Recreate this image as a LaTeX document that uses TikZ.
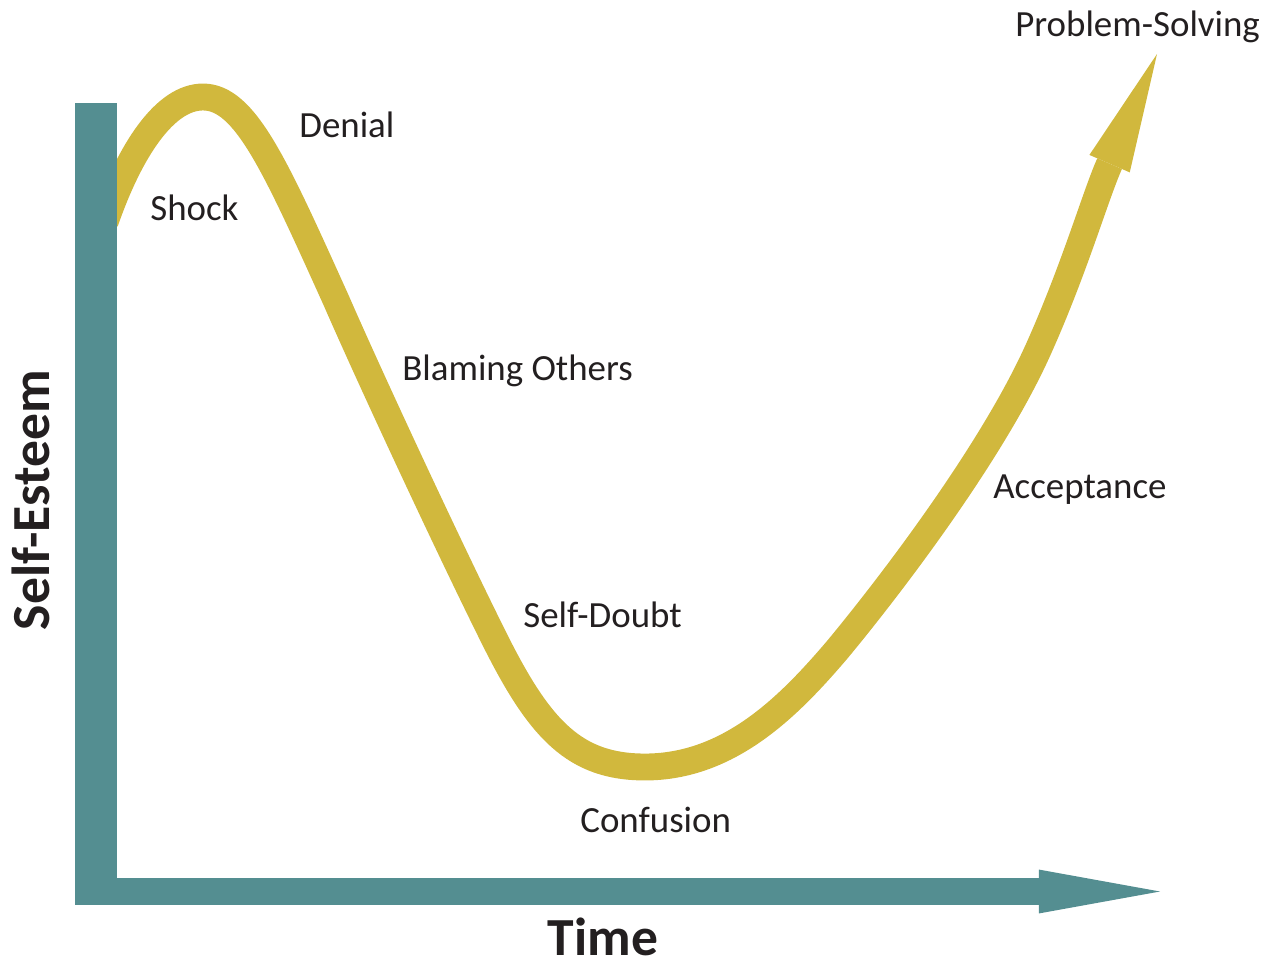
\documentclass[tikz,border=0pt]{standalone}
\usepackage{fontspec}
\setmainfont{Carlito}
\usetikzlibrary{arrows.meta}
\definecolor{axisteal}{RGB}{84,142,145}
\definecolor{curvegold}{RGB}{209,184,61}
\definecolor{labelgray}{RGB}{35,31,32}

\begin{document}
\begin{tikzpicture}[x=0.02cm, y=-0.02cm,
		stage/.style={anchor=base west, inner sep=0pt, text=labelgray,
			font=\fontsize{21}{25}\selectfont},
		axistitle/.style={inner sep=0pt, text depth=0pt, text=labelgray,
			font=\fontsize{30.5}{36}\selectfont\bfseries}]
	\useasboundingbox (0,0) rectangle (1274,963);

	% the change curve
	\coordinate (start) at (105,222);
	\coordinate (peak) at (203,97);
	\coordinate (fall) at (336,300);
	\coordinate (lowfall) at (495,640);
	\coordinate (dip) at (645,767);
	\coordinate (lowrise) at (837,650);
	\coordinate (rise) at (1038,350);
	\coordinate (headbase) at (1109,165);
	\coordinate (tip) at (1157,54);
	\draw[curvegold, line width=15.3pt,
		-{Triangle[length=68pt,width=25pt,line width=0pt]}] (start)
		.. controls (130,150) and (165,97) .. (peak)
		.. controls (245,97) and (275,165) .. (fall)
		.. controls (370,378) and (450,550) .. (lowfall)
		.. controls (540,730) and (575,767) .. (dip)
		.. controls (730,767) and (790,705) .. (lowrise)
		.. controls (895,580) and (993,450) .. (rise)
		.. controls (1074,270) and (1095,197) .. (headbase) -- (tip);

	% axes
	\fill[axisteal] (75,103) rectangle (117,905);
	\coordinate (origin) at (75,891.5);
	\coordinate (timeend) at (1160,891.5);
	\draw[axisteal, line width=15.3pt,
		-{Triangle[length=69pt,width=25pt,line width=0pt]}] (origin) -- (timeend);

	\node[axistitle, anchor=base] (time) at (603,955) {Time};
	\node[axistitle, anchor=base, rotate=90] (esteem) at (50,500) {Self-Esteem};

	% stages
	\node[stage] (shock) at (150,220) {Shock};
	\node[stage] (denial) at (299,137) {Denial};
	\node[stage] (blaming) at (402,380) {Blaming Others};
	\node[stage] (doubt) at (523,627) {Self-Doubt};
	\node[stage] (confusion) at (580,832) {Confusion};
	\node[stage] (acceptance) at (993,498) {Acceptance};
	\node[stage] (solving) at (1015,37) {Problem-Solving};
\end{tikzpicture}
\end{document}
